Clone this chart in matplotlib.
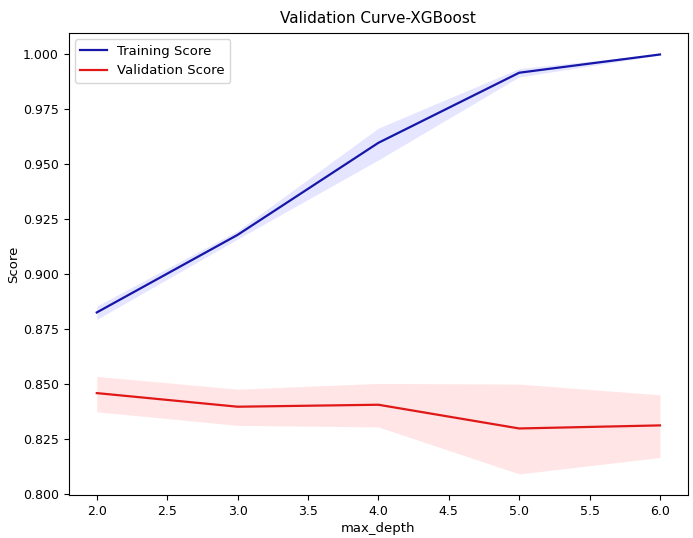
import matplotlib
matplotlib.use("Agg")
import matplotlib.pyplot as plt
import numpy as np

max_depth = [2, 3, 4, 5, 6]
train_mean = [0.8826, 0.9179, 0.9598, 0.9917, 1.0000]
train_upper = [0.8855, 0.9198, 0.9665, 0.9936, 1.0003]
train_lower = [0.8794, 0.9160, 0.9520, 0.9898, 0.9997]
val_mean = [0.8459, 0.8397, 0.8406, 0.8298, 0.8312]
val_upper = [0.8535, 0.8477, 0.8503, 0.8500, 0.8451]
val_lower = [0.8374, 0.8312, 0.8305, 0.8091, 0.8166]

fig = plt.figure(figsize=(6.93, 5.38), dpi=100)
ax = fig.add_axes([0.099, 0.080, 0.894, 0.859])

ax.plot(max_depth, train_mean, color="#1616a8", lw=1.6, label="Training Score")
ax.fill_between(max_depth, train_lower, train_upper, color="blue", alpha=0.1, lw=0)
ax.plot(max_depth, val_mean, color="#e01818", lw=1.6, label="Validation Score")
ax.fill_between(max_depth, val_lower, val_upper, color="red", alpha=0.1, lw=0)

ax.set_title("Validation Curve-XGBoost", fontsize=11, pad=7)
ax.set_xlabel("max_depth", fontsize=9.5, labelpad=3)
ax.set_ylabel("Score", fontsize=9.5, labelpad=2)
ax.tick_params(labelsize=9)
ax.legend(loc="upper left", fontsize=9.5)

fig.savefig("out.png", dpi=100)
